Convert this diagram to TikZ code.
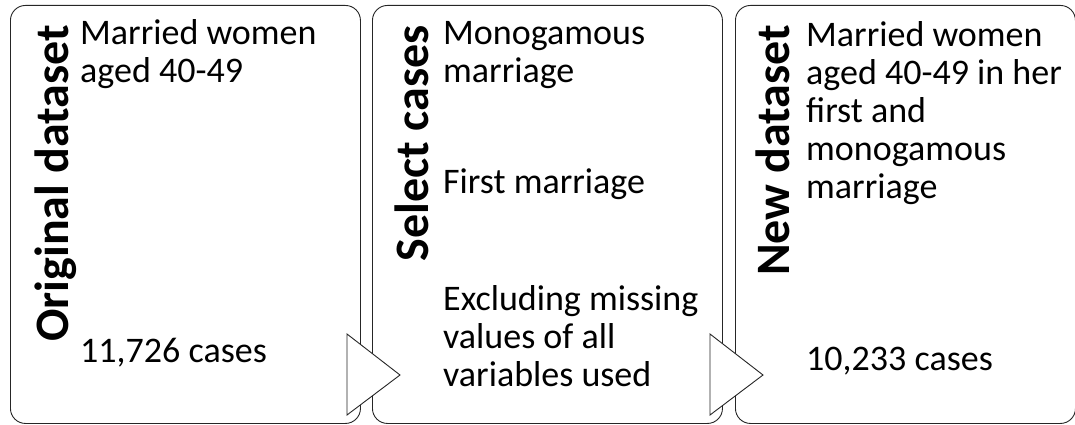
\documentclass[tikz,border=0pt]{standalone}
\usepackage{fontspec}
\setmainfont{Carlito}
\usetikzlibrary{positioning}

\begin{document}
\begin{tikzpicture}[
x=1pt, y=1pt,
panel/.style={draw=black!85, line width=0.9pt, rounded corners=15pt, fill=white, anchor=north west, minimum height=418pt},
heading/.style={rotate=90, inner sep=0pt, anchor=base east, font=\fontsize{48}{58}\selectfont\bfseries},
body/.style={inner sep=0pt, align=left, anchor=base west, font=\fontsize{36}{38}\selectfont},
pointer/.style={draw=black!85, line width=0.9pt, fill=white, line join=miter}
]
\useasboundingbox (0,0) rectangle (1075,-425);
% the three panels
\node[panel, minimum width=350pt] (orig) at (10,-5) {};
\node[panel, minimum width=350pt] (sel) at (372,-5) {};
\node[panel, minimum width=340pt] (new) at (735,-5) {};
% arrows between panels
\draw[pointer] (347,-334) -- (400,-375) -- (347,-415) -- cycle;
\draw[pointer] (710,-334) -- (763,-375) -- (710,-415) -- cycle;
% headings
\node[heading] (origtitle) at (68,-25) {Original dataset};
\node[heading] (seltitle) at (428,-25) {Select cases};
\node[heading] (newtitle) at (789,-25) {New dataset};
% texts (anchored on the last line)
\node[body] (origtext) at (80,-83) {Married women\\aged 40-49};
\node[body] (origcount) at (80,-362) {11,726 cases};
\node[body] (mono) at (443,-83) {Monogamous\\marriage};
\node[body] (first) at (443,-193) {First marriage};
\node[body] (missing) at (443,-386) {Excluding missing\\values of all\\variables used};
\node[body] (newtext) at (806,-198) {Married women\\aged 40-49 in her\\first and\\monogamous\\marriage};
\node[body] (newcount) at (806,-370) {10,233 cases};
\end{tikzpicture}
\end{document}
